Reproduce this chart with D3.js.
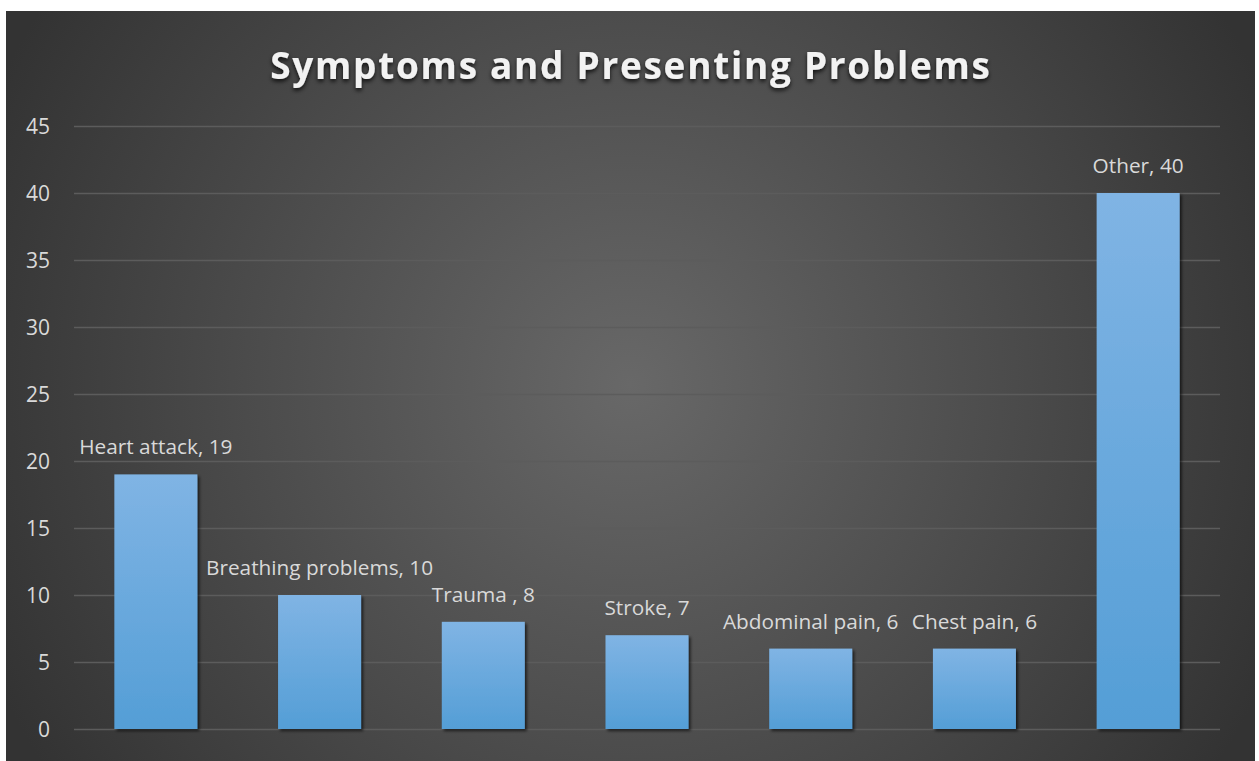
<!DOCTYPE html>
<html>
<head>
<meta charset="utf-8">
<script src="https://cdn.jsdelivr.net/npm/d3@7"></script>
<style>
  html, body { margin: 0; padding: 0; background: #ffffff; }
  svg { display: block; }
</style>
</head>
<body>
<svg id="chart" width="1259" height="761"></svg>
<script>
// Symptom categories and their counts
const categories = ["Heart attack", "Breathing problems", "Trauma ", "Stroke", "Abdominal pain", "Chest pain", "Other"];
const counts = [19, 10, 8, 7, 6, 6, 40];
const yTicks = [0, 5, 10, 15, 20, 25, 30, 35, 40, 45];
const chartTitle = "Symptoms and Presenting Problems";

const svg = d3.select("#chart");
const panel = { x: 6, y: 11, w: 1249, h: 750 };
const plot = { left: 74, right: 1220, top: 126, bottom: 729 };

const defs = svg.append("defs");

// Panel background: dark radial glow
const bg = defs.append("radialGradient").attr("id", "bgGrad")
  .attr("gradientUnits", "userSpaceOnUse")
  .attr("cx", 630).attr("cy", 385).attr("r", 700);
bg.append("stop").attr("offset", "0%").attr("stop-color", "#686868");
bg.append("stop").attr("offset", "55%").attr("stop-color", "#4b4b4b");
bg.append("stop").attr("offset", "100%").attr("stop-color", "#333333");

// Bar fill: lighter at top
const barGrad = defs.append("linearGradient").attr("id", "barGrad")
  .attr("x1", 0).attr("y1", 0).attr("x2", 0).attr("y2", 1);
barGrad.append("stop").attr("offset", "0%").attr("stop-color", "#80b4e4");
barGrad.append("stop").attr("offset", "100%").attr("stop-color", "#549ed6");

// Soft shadow under the bars
const barShadow = defs.append("filter").attr("id", "barShadow")
  .attr("x", "-20%").attr("y", "-5%").attr("width", "150%").attr("height", "115%");
barShadow.append("feDropShadow").attr("dx", 2).attr("dy", 2)
  .attr("stdDeviation", 1.8).attr("flood-color", "#000").attr("flood-opacity", 0.65);

// Title shadow
const titleShadow = defs.append("filter").attr("id", "titleShadow")
  .attr("x", "-5%").attr("y", "-30%").attr("width", "110%").attr("height", "170%");
titleShadow.append("feDropShadow").attr("dx", 0).attr("dy", 2.5)
  .attr("stdDeviation", 2).attr("flood-color", "#000").attr("flood-opacity", 0.8);

svg.append("rect")
  .attr("x", panel.x).attr("y", panel.y)
  .attr("width", panel.w).attr("height", panel.h)
  .attr("fill", "url(#bgGrad)");

const x = d3.scaleBand()
  .domain(categories)
  .range([plot.left, plot.right])
  .paddingInner(0.493)
  .paddingOuter(0.2465);

const y = d3.scaleLinear()
  .domain([0, 45])
  .range([plot.bottom, plot.top]);

// Horizontal gridlines and value labels on the left
const yAxis = d3.axisLeft(y)
  .tickValues(yTicks)
  .tickSize(-(plot.right - plot.left))
  .tickPadding(24);

const gy = svg.append("g")
  .attr("transform", `translate(${plot.left},0)`)
  .call(yAxis);
gy.select(".domain").remove();
gy.selectAll(".tick line")
  .attr("stroke", "#5c5c5c")
  .attr("stroke-width", 1.5);
gy.selectAll(".tick text")
  .attr("fill", "#d9d9d9")
  .attr("font-family", "'Open Sans', sans-serif")
  .attr("font-size", 21)
  .attr("dy", "0.35em");

// Bars
svg.append("g").selectAll("rect")
  .data(categories)
  .join("rect")
  .attr("x", d => x(d))
  .attr("y", (d, i) => y(counts[i]))
  .attr("width", x.bandwidth())
  .attr("height", (d, i) => y(0) - y(counts[i]))
  .attr("fill", "url(#barGrad)")
  .attr("filter", "url(#barShadow)");

// Category/value labels above each bar
svg.append("g").selectAll("text")
  .data(categories)
  .join("text")
  .attr("x", d => x(d) + x.bandwidth() / 2)
  .attr("y", (d, i) => y(counts[i]) - 20)
  .attr("text-anchor", "middle")
  .attr("fill", "#d9d9d9")
  .attr("font-family", "'Open Sans', sans-serif")
  .attr("font-size", 20.8)
  .text((d, i) => `${d}, ${counts[i]}`);

// Chart title
svg.append("text")
  .attr("x", 631)
  .attr("y", 79)
  .attr("text-anchor", "middle")
  .attr("fill", "#f2f2f2")
  .attr("font-family", "'Open Sans', sans-serif")
  .attr("font-weight", "bold")
  .attr("font-size", 37)
  .attr("letter-spacing", 1.7)
  .attr("filter", "url(#titleShadow)")
  .text(chartTitle);
</script>
</body>
</html>
